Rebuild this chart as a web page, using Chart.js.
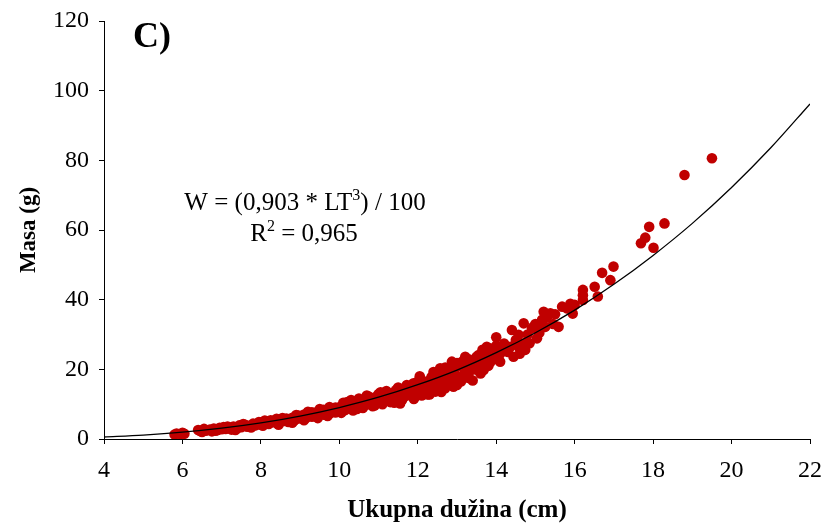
<!DOCTYPE html>
<html>
<head>
<meta charset="utf-8">
<script src="https://cdn.jsdelivr.net/npm/chart.js@4"></script>
<style>
html,body{margin:0;padding:0;background:#fff;}
#wrap{width:827px;height:526px;position:relative;}
</style>
</head>
<body>
<div id="wrap"><canvas id="c" width="827" height="526"></canvas></div>
<script>
// Observed lengths (cm) and masses (g)
const lengths = [
5.80,5.85,5.95,6.00,6.05,
6.40,6.45,6.55,6.60,6.70,6.75,6.80,6.90,6.95,7.00,7.05,7.10,7.20,7.25,7.30,7.40,7.45,7.50,7.60,7.65,7.70,7.80,7.85,7.90,
8.00,8.00,8.10,8.15,8.20,8.30,8.35,8.40,8.50,8.50,8.60,8.65,8.70,8.75,8.80,8.85,8.90,
9.00,9.00,9.05,9.10,9.15,9.20,9.25,9.30,9.35,9.40,9.45,9.50,9.55,9.60,9.65,9.70,9.75,9.80,9.85,9.90,9.95,
10.00,10.00,10.05,10.10,10.15,10.20,10.25,10.30,10.35,10.40,10.40,10.45,10.50,10.55,10.60,10.65,10.70,10.75,10.80,10.85,10.90,10.95,
11.00,11.05,11.10,11.15,11.20,11.25,11.30,11.35,11.40,11.40,11.45,11.50,11.55,11.60,11.64,11.70,11.72,11.75,11.80,11.81,11.89,11.90,11.93,11.95,
12.00,12.00,12.06,12.10,12.10,12.15,12.19,12.25,12.30,12.32,12.35,12.40,12.45,12.49,12.50,12.55,12.57,12.57,12.60,12.65,12.70,12.75,12.78,12.83,12.87,12.91,12.95,
13.00,13.00,13.05,13.10,13.13,13.17,13.21,13.25,13.30,13.30,13.38,13.40,13.46,13.50,13.55,13.59,13.68,13.68,13.76,13.76,13.84,13.85,13.93,
14.00,14.00,14.10,14.19,14.36,14.40,14.44,14.57,14.57,14.66,14.70,14.70,14.74,14.91,14.95,
15.04,15.17,15.17,15.21,15.25,15.38,15.59,15.68,15.89,
16.21,16.21,16.21,16.51,16.59,16.70,16.91,16.99,
17.69,17.80,17.90,18.01,18.29,18.80,19.50,
6.50,6.85,7.15,7.35,7.55,7.75,7.95,8.05,8.25,8.45,8.55,8.80,8.95,9.10,9.30,9.45,9.60,9.70,9.90,10.05,
10.20,10.35,10.50,10.60,10.75,10.90,11.00,11.10,11.20,11.30,
11.50,11.60,11.70,11.85,11.90,12.00,12.05,12.20,12.25,12.40,12.45,12.60,12.70,12.80,12.90,
13.00,13.10,13.20,13.30,13.40,13.50,13.60,13.65,13.70,13.80,13.90,14.00,14.10,14.20,14.30,
14.50,14.60,14.80,14.85,15.00,15.10,15.30,15.45,15.50,15.80,16.00,15.95,
8.10,8.40,8.90,9.20,9.50,9.75,10.10,10.30,10.45,10.70,10.85,11.05
];
const masses = [
1.3,1.6,1.4,1.8,1.5,
2.6,2.3,2.9,2.4,2.7,2.2,3.0,2.6,3.2,2.8,3.4,2.9,3.3,2.7,3.6,3.1,3.9,3.4,4.1,3.5,3.8,4.4,3.9,4.2,
4.8,4.1,4.5,5.0,4.3,4.8,5.3,4.6,5.6,4.9,5.2,5.9,4.9,5.5,6.1,5.3,5.8,
6.6,5.9,6.3,7.0,6.0,6.6,7.3,6.4,6.9,7.6,6.7,7.3,8.0,7.0,7.7,8.3,7.3,8.0,8.6,7.6,8.4,
9.1,8.0,8.7,9.6,8.3,9.2,10.1,8.8,9.7,10.6,9.1,10.0,11.0,9.5,10.4,11.3,9.9,10.9,11.8,10.3,11.3,12.2,
10.7,11.7,12.6,11.1,12.1,13.1,11.6,12.5,13.5,10.4,14.1,12.9,10.2,13.8,12.1,15.0,15.5,13.3,14.4,13.6,16.0,11.5,12.1,14.9,
16.5,13.0,17.4,15.2,12.5,15.5,13.1,16.6,12.8,14.1,17.8,16.9,15.3,18.9,14.0,17.2,20.3,15.0,13.5,18.6,14.6,19.5,16.9,20.3,22.2,15.0,18.6,
17.4,15.5,21.0,16.5,22.2,18.4,23.6,20.5,18.9,17.5,21.8,16.8,22.7,19.9,24.1,21.2,19.8,24.1,24.6,26.5,26.0,22.0,24.1,
29.2,23.0,22.2,25.6,26.5,31.3,23.6,29.9,26.5,25.6,27.5,33.2,25.6,31.8,32.2,
28.9,34.2,32.7,36.5,32.2,36.1,32.2,38.0,38.8,
42.8,41.3,39.9,43.7,40.9,47.7,45.6,49.5,
56.2,57.8,60.9,54.9,61.9,75.8,80.6,
2.0,2.4,3.6,2.6,4.3,3.3,4.9,3.8,5.4,4.1,6.0,4.7,6.7,5.4,7.7,6.0,8.4,6.6,9.0,7.5,
10.6,8.2,11.6,8.9,12.2,9.6,12.9,10.0,13.8,10.6,
14.8,11.2,12.4,15.5,13.0,14.2,18.0,15.9,12.8,19.2,13.6,16.3,20.5,15.8,19.1,
21.8,17.2,19.6,22.9,20.3,23.6,18.8,25.6,22.5,21.0,25.9,26.8,24.5,27.4,25.0,
28.4,24.5,30.0,27.5,33.0,30.5,35.0,33.0,35.8,37.5,38.5,36.0,
5.3,5.8,6.9,7.8,8.6,9.2,10.4,11.2,8.6,12.5,9.4,13.4
];
// Fitted curve
const curveLengths = [4,5,6,7,8,9,10,11,12,13,14,15,16,17,18,19,20,21,22];
const curveMasses = [0.58,1.13,1.95,3.10,4.62,6.58,9.03,12.0,15.6,19.8,24.8,30.5,37.0,44.4,52.7,61.9,72.2,83.6,96.2];
const xTicks = [4,6,8,10,12,14,16,18,20,22];
const yTicks = [0,20,40,60,80,100,120];
const xTitle = 'Ukupna dužina (cm)';
const yTitle = 'Masa (g)';
const panelLabel = 'C)';
const eqParts = ['W = (0,903 * LT', '3', ') / 100'];
const r2Parts = ['R', '2', ' = 0,965'];

const points = lengths.map((x,i)=>({x:x,y:masses[i]}));
const curve = curveLengths.map((x,i)=>({x:x,y:curveMasses[i]}));

const SERIF = '"Liberation Serif","Times New Roman",serif';

const textPlugin = {
  id:'texts',
  afterDraw(chart){
    const ctx = chart.ctx;
    ctx.save();
    ctx.fillStyle = '#000';
    ctx.textBaseline = 'alphabetic';
    ctx.textAlign = 'left';
    ctx.font = 'bold 36px ' + SERIF;
    ctx.fillText(panelLabel, 133, 47);
    function drawSup(parts, cx, base){
      const big = '25px ' + SERIF, small = '16px ' + SERIF;
      ctx.font = big; const w0 = ctx.measureText(parts[0]).width;
      ctx.font = small; const w1 = ctx.measureText(parts[1]).width;
      ctx.font = big; const w2 = ctx.measureText(parts[2]).width;
      let x = cx - (w0+w1+w2)/2;
      ctx.font = big; ctx.fillText(parts[0], x, base); x += w0;
      ctx.font = small; ctx.fillText(parts[1], x, base-10); x += w1;
      ctx.font = big; ctx.fillText(parts[2], x, base);
    }
    drawSup(eqParts, 305, 210);
    drawSup(r2Parts, 304, 241);
    ctx.restore();
  }
};

new Chart(document.getElementById('c'), {
  type:'scatter',
  data:{
    datasets:[
      {type:'line', data:curve, borderColor:'#000', borderWidth:1.3, pointRadius:0, fill:false,
       cubicInterpolationMode:'monotone', order:0},
      {type:'scatter', data:points, backgroundColor:'#C00000', borderWidth:0, pointRadius:5.3, order:1}
    ]
  },
  options:{
    responsive:false, animation:false,
    layout:{padding:{top:21,right:17,left:0,bottom:0}},
    plugins:{legend:{display:false}, tooltip:{enabled:false}},
    scales:{
      x:{type:'linear', min:4, max:22,
        afterBuildTicks(s){ s.ticks = xTicks.map(v=>({value:v})); },
        afterFit(s){ s.height = 87; s.paddingLeft = 0; s.paddingRight = 0; },
        grid:{display:true, drawOnChartArea:false, drawTicks:true, tickLength:5, color:'#000', lineWidth:1},
        border:{display:true, color:'#000', width:1},
        ticks:{color:'#000', font:{family:SERIF, size:24}, padding:12, maxRotation:0},
        title:{display:true, text:xTitle, color:'#000', font:{family:SERIF, size:25, weight:'bold'}, padding:{top:0,bottom:0}}
      },
      y:{type:'linear', min:0, max:120,
        afterBuildTicks(s){ s.ticks = yTicks.map(v=>({value:v})); },
        afterFit(s){ s.width = 104; s.paddingTop = 0; s.paddingBottom = 0; },
        grid:{display:true, drawOnChartArea:false, drawTicks:true, tickLength:5, color:'#000', lineWidth:1},
        border:{display:true, color:'#000', width:1},
        ticks:{color:'#000', font:{family:SERIF, size:24}, padding:10},
        title:{display:true, text:yTitle, color:'#000', font:{family:SERIF, size:23, weight:'bold'}, padding:{top:15,bottom:0}}
      }
    }
  },
  plugins:[textPlugin]
});
</script>
</body>
</html>
